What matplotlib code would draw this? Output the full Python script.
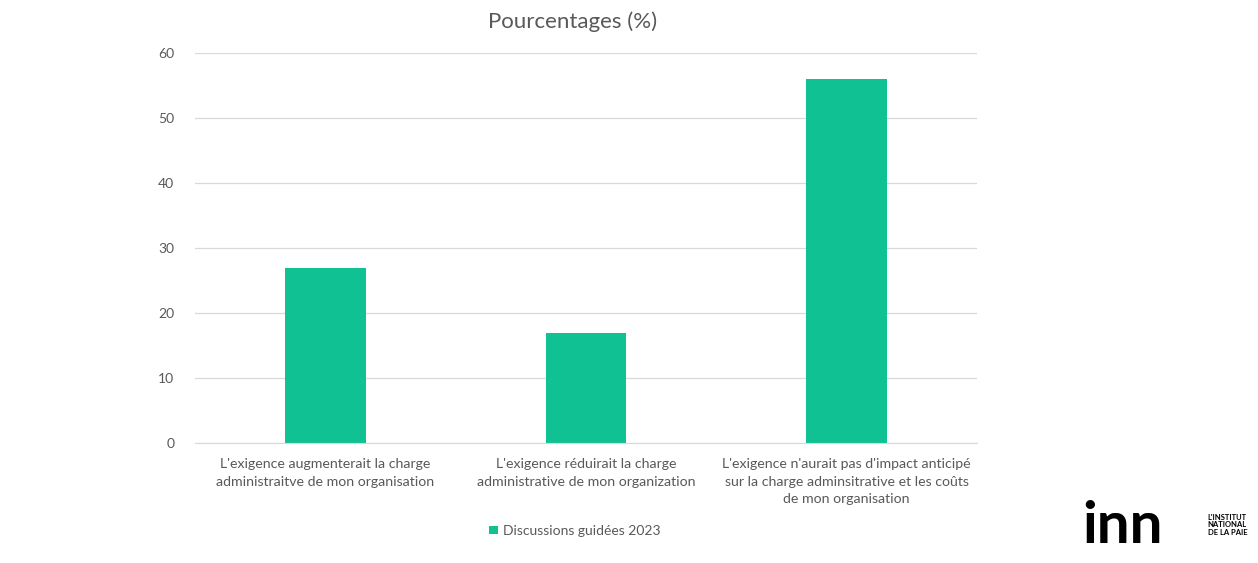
import matplotlib.pyplot as plt
import numpy as np

plt.rcParams['font.family'] = ['Lato', 'DejaVu Sans']

categories = [
    "L'exigence augmenterait la charge\nadministraitve de mon organisation",
    "L'exigence réduirait la charge\nadministrative de mon organization",
    "L'exigence n'aurait pas d'impact anticipé\nsur la charge adminsitrative et les coûts\nde mon organisation",
]
values = [27, 17, 56]
series_name = "Discussions guidées 2023"
yticks = [0, 10, 20, 30, 40, 50, 60]

green = "#10c194"
grey = "#595959"

fig = plt.figure(figsize=(12.58, 5.63), dpi=100)
ax = fig.add_axes([0.155, 0.2131, 0.6216, 0.6928])

x = np.arange(len(categories))
ax.bar(x, values, width=0.31, color=green, label=series_name, zorder=3)

ax.set_xlim(-0.5, len(categories) - 0.5)
ax.set_ylim(0, 60)
ax.set_yticks(yticks)
ax.set_xticks(x)
ax.set_xticklabels(categories, fontsize=10.2, color=grey, linespacing=1.55)
ax.tick_params(axis='both', length=0, labelcolor=grey)
ax.tick_params(axis='y', pad=15, labelsize=10)
ax.tick_params(axis='x', pad=11)
ax.grid(axis='y', color='#d9d9d9', linewidth=0.9, zorder=0)
for s in ['top', 'right', 'left']:
    ax.spines[s].set_visible(False)
ax.spines['bottom'].set_color('#d9d9d9')
ax.spines['bottom'].set_zorder(4)

fig.text(0.4555, 0.962, "Pourcentages (%)", ha='center', va='center',
         fontsize=16, color=grey)

fig.legend(loc='center', bbox_to_anchor=(0.457, 0.057), frameon=False,
           fontsize=10, labelcolor=grey, handlelength=0.6, handleheight=0.6,
           handletextpad=0.4)

# logo
fig.text(0.860, 0.065, "inn", fontsize=42, fontweight='bold', color='black',
         ha='left', va='center')
fig.text(0.960, 0.068, "L'INSTITUT\nNATIONAL\nDE LA PAIE", fontsize=5.5,
         fontweight='bold', color='black', ha='left', va='center', linespacing=1.1)

fig.savefig("out.png", dpi=100)
